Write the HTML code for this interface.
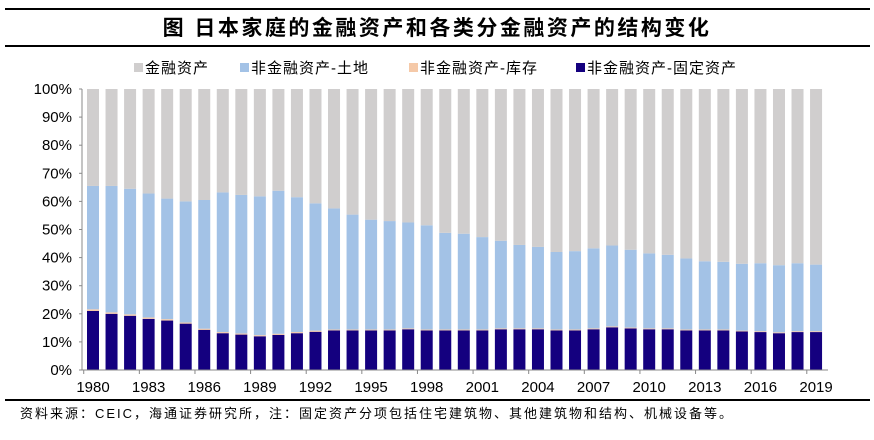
<!DOCTYPE html>
<html><head><meta charset="utf-8"><style>
body{margin:0;background:#fff;width:874px;height:435px;overflow:hidden;font-family:"Liberation Sans","Noto Sans CJK SC",sans-serif}
svg text{font-family:"Liberation Sans","Noto Sans CJK SC",sans-serif}
</style></head><body>
<svg id="c" width="874" height="435">
<line x1="5" y1="9" x2="870" y2="9" stroke="#000" stroke-width="2"/>
<text x="437" y="35" text-anchor="middle" font-size="21" font-weight="bold" letter-spacing="2.5">图  日本家庭的金融资产和各类分金融资产的结构变化</text>
<line x1="5" y1="46" x2="870" y2="46" stroke="#000" stroke-width="2"/>
<g id="legend"></g>
<g id="plot"></g>
<line x1="5" y1="400" x2="870" y2="400" stroke="#000" stroke-width="2"/>
<text x="20" y="418" font-size="13" letter-spacing="2">资料来源：CEIC，海通证券研究所，注：固定资产分项包括住宅建筑物、其他建筑物和结构、机械设备等。</text>
</svg>
<script>
const years=[];for(let y=1980;y<=2019;y++)years.push(y);
const nonFinTotal=[65.5,65.5,64.5,62.8,61,60,60.5,63.2,62.3,61.8,63.8,61.5,59.3,57.5,55.3,53.5,53,52.5,51.5,48.8,48.5,47.3,46,44.5,43.8,42,42.3,43.3,44.3,42.8,41.5,41,39.7,38.7,38.5,37.8,38,37.3,38,37.5];
const fixedAssets=[21,20,19.3,18.2,17.6,16.5,14.3,13.1,12.6,12,12.5,13.1,13.6,14.1,14.1,14.1,14.1,14.5,14.1,14.1,14.1,14.1,14.5,14.5,14.5,14.1,14.1,14.5,15.2,14.8,14.5,14.5,14.1,14.1,14.1,13.7,13.5,13.1,13.5,13.5];
const inventory=[0.6,0.5,0.5,0.5,0.5,0.4,0.4,0.4,0.4,0.4,0.4,0.4,0.4,0.3,0.3,0.3,0.3,0.3,0.3,0.3,0.3,0.3,0.3,0.3,0.3,0.3,0.3,0.3,0.3,0.3,0.3,0.3,0.3,0.3,0.3,0.3,0.3,0.3,0.3,0.3];
const yTicks=[0,10,20,30,40,50,60,70,80,90,100];
const NS='http://www.w3.org/2000/svg';
const plot=document.getElementById('plot'),legend=document.getElementById('legend');
const y0=370,y1=89,x0=93,step=18.54,bw=12;
const Y=v=>y0-(v/100)*(y0-y1);
const X=i=>x0+i*step;
function mk(t,a,p){const e=document.createElementNS(NS,t);for(const k in a)e.setAttribute(k,a[k]);(p||plot).appendChild(e);return e;}
const cols={fin:'#d0cece',land:'#a3c2e6',inv:'#f5c9a8',fix:'#14007f'};
years.forEach((yr,i)=>{
 const f=fixedAssets[i],inv=inventory[i],t=nonFinTotal[i];
 const segs=[['fix',0,f],['inv',f,f+inv],['land',f+inv,t],['fin',t,100]];
 segs.forEach(s=>{
  const r=mk('rect',{x:X(i)-bw/2,y:Y(s[2]),width:bw,height:Y(s[1])-Y(s[2]),fill:cols[s[0]]});
  
  
 });
});
const ax=mk('line',{x1:82,y1:y1,x2:82,y2:y0,stroke:'#888'});

const bx=mk('line',{x1:82,y1:y0,x2:828,y2:y0,stroke:'#888'});

yTicks.forEach(v=>{
 const tk=mk('line',{x1:79,y1:Y(v),x2:82,y2:Y(v),stroke:'#888'});
 
 const t=mk('text',{x:72,y:Y(v)+5,'text-anchor':'end','font-size':15});
 t.textContent=v+'%';
 
});
years.forEach((yr,i)=>{
 if(i%3===0){
  const tk=mk('line',{x1:X(i)-step/2,y1:y0,x2:X(i)-step/2,y2:y0+4,stroke:'#888'});
  
  const t=mk('text',{x:X(i),y:392,'text-anchor':'middle','font-size':15});
  t.textContent=yr;
  
 }
});
const leg=[['fin','金融资产',134],['land','非金融资产-土地',240],['inv','非金融资产-库存',409],['fix','非金融资产-固定资产',576]];
leg.forEach(l=>{
 const r=mk('rect',{x:l[2],y:63,width:9,height:9,fill:cols[l[0]]},legend);
 
 const t=mk('text',{x:l[2]+11,y:73,'font-size':15,'letter-spacing':1},legend);
 t.textContent=l[1];
 
});
</script>
</body></html>
